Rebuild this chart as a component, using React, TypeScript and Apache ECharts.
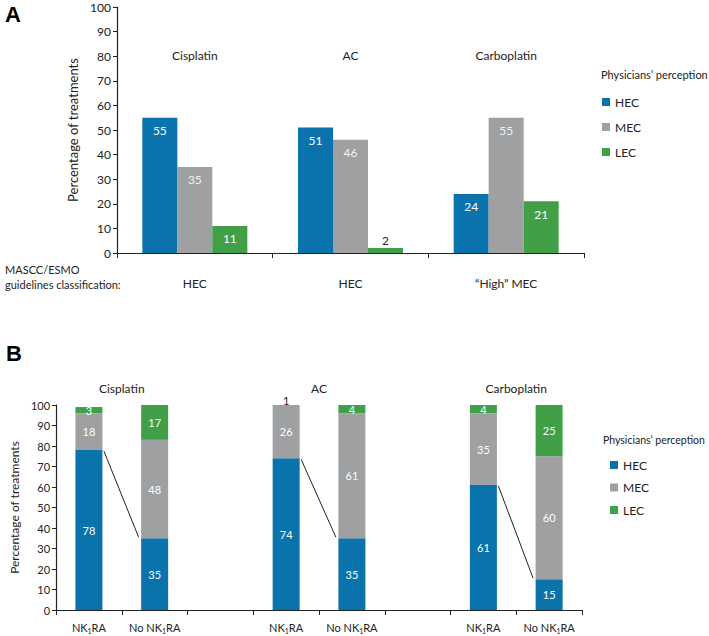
import React, { useEffect, useRef } from "react";
import * as echarts from "echarts";

const drugs = ["Cisplatin", "AC", "Carboplatin"];
const guidelineClass = ["HEC", "HEC", "\u201cHigh\u201d MEC"];
const perceptions = ["HEC", "MEC", "LEC"];
const aHEC = [55, 51, 24];
const aMEC = [35, 46, 55];
const aLEC = [11, 2, 21];

const bCats = ["NK1RA", "No NK1RA", "", "NK1RA", "No NK1RA", "", "NK1RA", "No NK1RA"];
const bHEC: (number | string)[] = [78, 35, "-", 74, 35, "-", 61, 15];
const bMEC: (number | string)[] = [18, 48, "-", 26, 61, "-", 35, 60];
const bLEC: (number | string)[] = [3, 17, "-", 1, 4, "-", 4, 25];
// pairs of [NK1RA category index, HEC value, No NK1RA category index, HEC value]
const bLinks = [
  [0, 78, 1, 35],
  [3, 74, 4, 35],
  [6, 61, 7, 15],
];
const yTicks = { min: 0, max: 100, interval: 10 };

const COLORS = { HEC: "#0b73ac", MEC: "#9ea0a2", LEC: "#41a047" };
const FONT = "Lato";
const DARK = "#222";

export default function App() {
  const ref = useRef<HTMLDivElement>(null);
  useEffect(() => {
    if (!ref.current) return;
    const chart = echarts.init(ref.current, undefined, { renderer: "svg" });

    const axisLine = { show: true, lineStyle: { color: DARK, width: 1.2 } };
    const yAxisCommon = (gridIndex: number, nameGap: number, fs: number) => ({
      type: "value",
      gridIndex,
      ...yTicks,
      name: "Percentage of treatments",
      nameLocation: "middle",
      nameGap,
      nameTextStyle: { fontSize: fs + 1, color: DARK, fontFamily: FONT },
      axisLine,
      axisTick: { show: true, length: 4, lineStyle: { color: DARK } },
      axisLabel: { fontSize: fs, color: DARK, margin: 6, fontFamily: FONT },
      splitLine: { show: false },
    });

    const aLabel = (color: string) => ({
      show: true,
      position: "insideTop",
      distance: 7,
      color,
      fontSize: 12,
      fontFamily: FONT,
    });
    const aData = (arr: number[]) =>
      arr.map((v) =>
        v < 5 ? { value: v, label: { position: "top", color: DARK, distance: 2 } } : v
      );
    const bData = (arr: (number | string)[]) =>
      arr.map((v) =>
        typeof v === "number" && v < 2
          ? { value: v, label: { position: "top", color: DARK, distance: -1 } }
          : v
      );
    const bLabel = {
      show: true,
      position: "inside",
      color: "#fff",
      fontSize: 11,
      fontFamily: FONT,
    };

    const option: any = {
      animation: false,
      textStyle: { fontFamily: FONT },
      grid: [
        { left: 117, top: 7, width: 467, height: 246 },
        { left: 45, top: 405, width: 537, height: 205 },
      ],
      xAxis: [
        {
          type: "category",
          gridIndex: 0,
          data: guidelineClass,
          axisLine,
          axisTick: { show: true, length: 5, lineStyle: { color: DARK } },
          axisLabel: { fontSize: 12, color: DARK, margin: 24, fontFamily: FONT },
        },
        {
          type: "category",
          gridIndex: 1,
          data: bCats,
          axisLine,
          axisTick: { show: true, length: 5, interval: 0, lineStyle: { color: DARK } },
          axisLabel: {
            interval: 0,
            fontSize: 11,
            color: DARK,
            margin: 11,
            fontFamily: FONT,
            formatter: (v: string) => v.replace("NK1RA", "NK{s|1}RA"),
            rich: {
              s: { fontSize: 7, padding: [6, 0, 0, 0], color: DARK, fontFamily: FONT },
            },
          },
        },
      ],
      yAxis: [yAxisCommon(0, 32, 12), yAxisCommon(1, 30, 11)],
      legend: [
        {
          data: perceptions,
          orient: "vertical",
          left: 597,
          top: 91,
          icon: "rect",
          itemWidth: 8,
          itemHeight: 8,
          itemGap: 13,
          textStyle: { fontSize: 12, color: DARK, fontFamily: FONT },
        },
        {
          data: perceptions,
          orient: "vertical",
          left: 605,
          top: 454,
          icon: "rect",
          itemWidth: 8,
          itemHeight: 8,
          itemGap: 10.5,
          textStyle: { fontSize: 12, color: DARK, fontFamily: FONT },
        },
      ],
      series: [
        {
          name: "HEC",
          type: "bar",
          xAxisIndex: 0,
          yAxisIndex: 0,
          barWidth: 35,
          barGap: "0%",
          itemStyle: { color: COLORS.HEC },
          label: aLabel("#fff"),
          data: aData(aHEC),
        },
        {
          name: "MEC",
          type: "bar",
          xAxisIndex: 0,
          yAxisIndex: 0,
          barWidth: 35,
          barGap: "0%",
          itemStyle: { color: COLORS.MEC },
          label: aLabel("#f2f2f2"),
          data: aData(aMEC),
        },
        {
          name: "LEC",
          type: "bar",
          xAxisIndex: 0,
          yAxisIndex: 0,
          barWidth: 35,
          barGap: "0%",
          itemStyle: { color: COLORS.LEC },
          label: aLabel("#fff"),
          data: aData(aLEC),
        },
        {
          name: "HEC",
          type: "bar",
          stack: "b",
          xAxisIndex: 1,
          yAxisIndex: 1,
          barWidth: 27,
          itemStyle: { color: COLORS.HEC },
          label: bLabel,
          data: bData(bHEC),
        },
        {
          name: "MEC",
          type: "bar",
          stack: "b",
          xAxisIndex: 1,
          yAxisIndex: 1,
          barWidth: 27,
          itemStyle: { color: COLORS.MEC },
          label: bLabel,
          data: bData(bMEC),
        },
        {
          name: "LEC",
          type: "bar",
          stack: "b",
          xAxisIndex: 1,
          yAxisIndex: 1,
          barWidth: 27,
          itemStyle: { color: COLORS.LEC },
          label: bLabel,
          data: bData(bLEC),
        },
        {
          type: "custom",
          xAxisIndex: 1,
          yAxisIndex: 1,
          silent: true,
          z: 5,
          data: bLinks,
          encode: { x: 0, y: 1 },
          renderItem: (params: any, api: any) => {
            const p1 = api.coord([api.value(0), api.value(1)]);
            const p2 = api.coord([api.value(2), api.value(3)]);
            const half = 15;
            return {
              type: "line",
              shape: { x1: p1[0] + half, y1: p1[1] + 1, x2: p2[0] - half - 1, y2: p2[1] - 1 },
              style: { stroke: DARK, lineWidth: 1 },
            };
          },
        },
      ],
      graphic: [
        { id: "lblA", type: "text", x: 5, y: 3, style: { text: "A", font: "bold 22px 'Liberation Sans'", fill: "#000" } },
        { id: "lblB", type: "text", x: 6, y: 342, style: { text: "B", font: "bold 22px 'Liberation Sans'", fill: "#000" } },
        {
          id: "mascc",
          type: "text",
          x: 5,
          y: 262,
          style: {
            text: "MASCC/ESMO\nguidelines classification:",
            font: `11px ${FONT}`,
            lineHeight: 15,
            fill: DARK,
          },
        },
        { id: "legTitleA", type: "text", x: 601, y: 69, style: { text: "Physicians\u2019 perception", font: `11px ${FONT}`, fill: DARK } },
        { id: "legTitleB", type: "text", x: 603, y: 434, style: { text: "Physicians\u2019 perception", font: `10.5px ${FONT}`, fill: DARK } },
      ],
    };
    chart.setOption(option);

    const titles: any[] = [];
    drugs.forEach((d, i) => {
      const x = chart.convertToPixel({ xAxisIndex: 0 }, i) as unknown as number;
      titles.push({
        id: "drugA" + i,
        type: "text",
        x,
        y: 55,
        style: { text: d, font: `12px ${FONT}`, fill: DARK, align: "center", verticalAlign: "middle" },
      });
      const x1 = chart.convertToPixel({ xAxisIndex: 1 }, i * 3) as unknown as number;
      const x2 = chart.convertToPixel({ xAxisIndex: 1 }, i * 3 + 1) as unknown as number;
      titles.push({
        id: "drugB" + i,
        type: "text",
        x: (x1 + x2) / 2,
        y: 388,
        style: { text: d, font: `12px ${FONT}`, fill: DARK, align: "center", verticalAlign: "middle" },
      });
    });
    chart.setOption({ graphic: titles });

    return () => chart.dispose();
  }, []);
  return (
    <div
      ref={ref}
      style={{ position: "absolute", left: 0, top: 0, width: 709, height: 636 }}
    />
  );
}
